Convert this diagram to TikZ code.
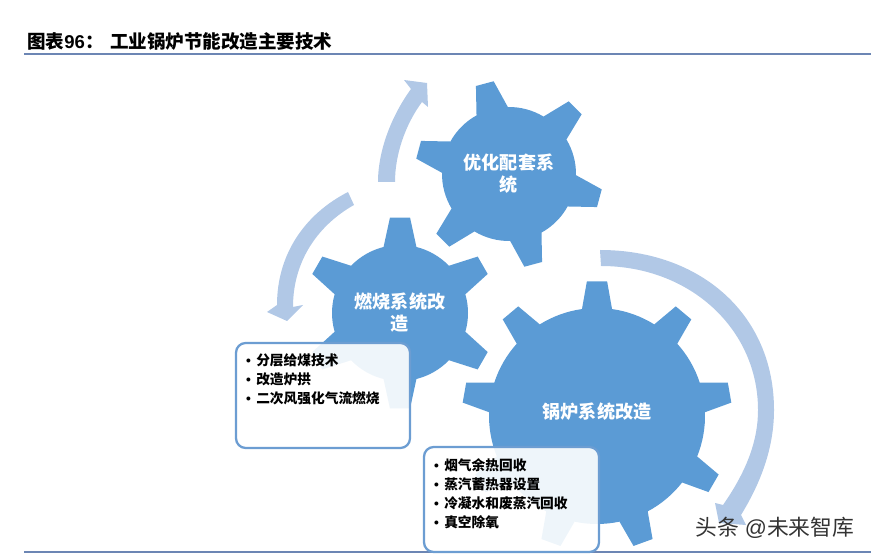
\documentclass[tikz,border=0pt]{standalone}
\usepackage{fontspec}
\setmainfont{Liberation Sans}
\newfontfamily\cjk{Noto Sans CJK SC}
\definecolor{gearblue}{HTML}{5B9BD5}
\definecolor{arcblue}{HTML}{B1C8E6}
\definecolor{boxblue}{HTML}{6C9DD2}
\definecolor{rulecol}{HTML}{6C86B4}
\tikzset{
	gearlabel/.style={text=white,align=center,font=\cjk\bfseries\fontsize{10.3}{12.6}\selectfont},
	listbox/.style={draw=boxblue,line width=1.3pt,fill=white,fill opacity=0.9,rounded corners=5.5pt},
	listtext/.style={anchor=north west,align=left,font=\cjk\bfseries\fontsize{7.8}{10.75}\selectfont},
	rulebar/.style={draw=rulecol,line width=1.1pt}
}
\newcommand{\listdot}{{\rmfamily\textbullet}\hspace{3pt}}
% centre x, centre y, body radius, tip radius, teeth, first tooth angle, half angle at root, half angle at tip
\newcommand{\gearwheel}[8]{
	\fill[gearblue,shift={(#1,#2)}] (#6-#7:#3)
		\foreach \k [evaluate=\k as \a using {#6+\k*360/#5}] in {1,...,#5} {
			-- (\a-360/#5-#7:#3) -- (\a-360/#5-#8:#4) -- (\a-360/#5+#8:#4) -- (\a-360/#5+#7:#3)
			arc[start angle=\a-360/#5+#7,end angle=\a-#7,radius=#3]
		} -- cycle;
}
\begin{document}
\begin{tikzpicture}[x=0.02cm,y=0.02cm]
	\useasboundingbox (0,0) rectangle (871,554);

	% title
	\node[anchor=west,inner sep=0pt,font=\bfseries\fontsize{10.55}{12}\selectfont] (title) at (27,512.5) {{\cjk 图表}96{\cjk ：\hspace{0.35em}工业锅炉节能改造主要技术}};
	\coordinate (ruleleft) at (24,500);
	\coordinate (ruleright) at (871,500);
	\draw[rulebar] (ruleleft) -- (ruleright);
	\coordinate (footleft) at (24,2);
	\coordinate (footright) at (871,2);
	\draw[rulebar] (footleft) -- (footright);

	% curved arrows
	\fill[arcblue] (378,372) .. controls (378,404) and (392,439) .. (411,465) -- (404,474) -- (427,471) -- (428,447) -- (422,452) .. controls (405,429) and (395,399) .. (395,372) -- cycle;
	\fill[arcblue] (348,362) .. controls (305,340) and (277,300) .. (277,249) -- (267,242) -- (287,233) -- (303,249) -- (293,247) .. controls (293,295) and (320,330) .. (354,349) -- cycle;
	\fill[arcblue] (600,304) .. controls (700,304) and (774,240) .. (774,144) .. controls (774,105) and (760,70) .. (741,39) -- (746,29) -- (719,31) -- (715,51) -- (723,49) .. controls (748,85) and (758,115) .. (758,144) .. controls (758,225) and (690,288) .. (601,288) -- cycle;

	% gears
	\gearwheel{509}{380}{67}{94}{6}{105}{14}{5.6}
	\gearwheel{400}{241}{68}{96}{6}{90}{14}{6}
	\gearwheel{597}{138}{108}{135}{9}{90}{8}{4.3}

	\node[gearlabel] (optim) at (509,380) {优化配套系\\统};
	\node[gearlabel] (burn) at (400,241.5) {燃烧系统改\\造};
	\node[gearlabel] (boiler) at (597,142.5) {锅炉系统改造};

	% lists
	\draw[listbox] (236,106) rectangle (410,211);
	\node[listtext] (burnlist) at (240,206.5) {\listdot 分层给煤技术\\\listdot 改造炉拱\\\listdot 二次风强化气流燃烧};
	\draw[listbox] (424,2) rectangle (599,107);
	\node[listtext] (boilerlist) at (428,101.5) {\listdot 烟气余热回收\\\listdot 蒸汽蓄热器设置\\\listdot 冷凝水和废蒸汽回收\\\listdot 真空除氧};

	\node[anchor=west,inner sep=0pt,text=black!80,font=\fontsize{12.4}{14}\selectfont] (mark) at (695,26) {{\cjk 头条} @{\cjk 未来智库}};
\end{tikzpicture}
\end{document}
